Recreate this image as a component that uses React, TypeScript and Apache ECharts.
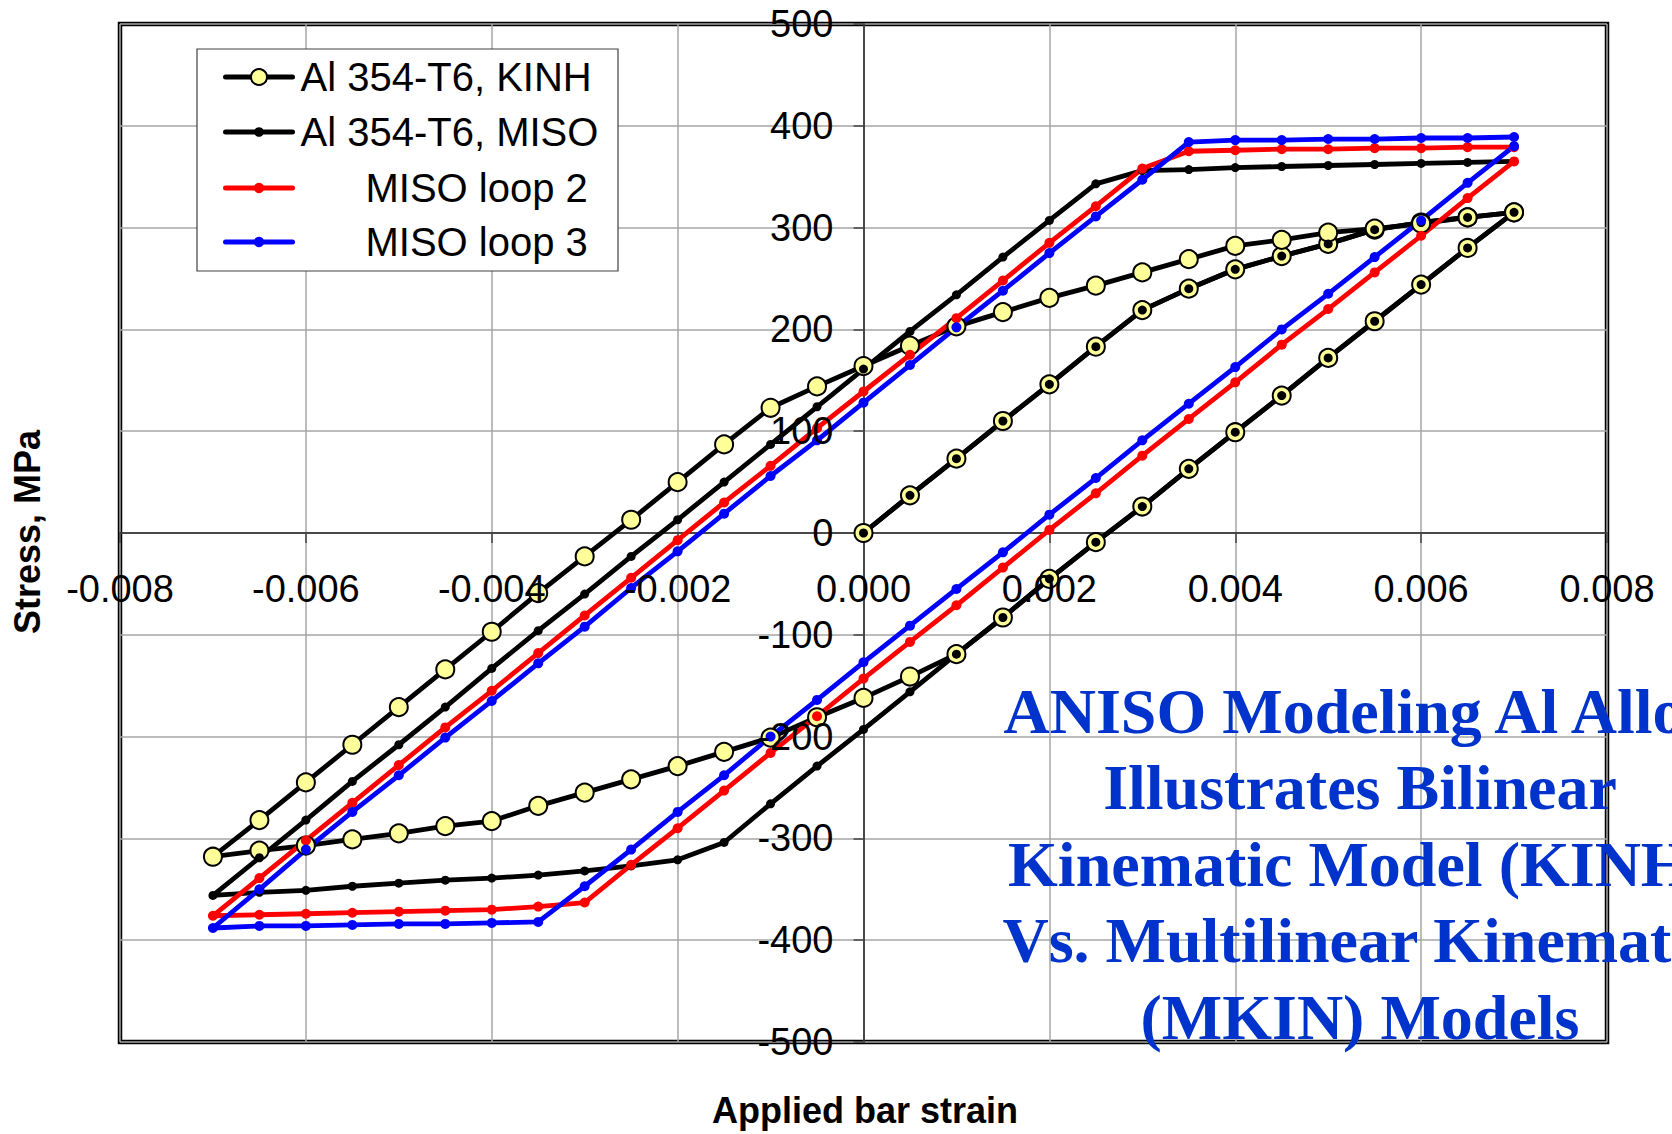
import React, { useEffect, useRef } from "react";
import * as echarts from "echarts";

// ---------- data (strain, stress in MPa) ----------
const strainFirstCycle = [
  0, 0.0005, 0.001, 0.0015, 0.002, 0.0025, 0.003, 0.0035, 0.004, 0.0045, 0.005, 0.0055, 0.006, 0.0065, 0.007,
  0.0065, 0.006, 0.0055, 0.005, 0.0045, 0.004, 0.0035, 0.003, 0.0025, 0.002, 0.0015, 0.001, 0.0005, 0,
  -0.0005, -0.001, -0.0015, -0.002, -0.0025, -0.003, -0.0035, -0.004, -0.0045, -0.005, -0.0055, -0.006, -0.0065, -0.007,
  -0.0065, -0.006, -0.0055, -0.005, -0.0045, -0.004, -0.0035, -0.003, -0.0025, -0.002, -0.0015, -0.001, -0.0005, 0,
  0.0005, 0.001, 0.0015, 0.002, 0.0025, 0.003, 0.0035, 0.004, 0.0045, 0.005, 0.0055, 0.006, 0.0065, 0.007,
];

const strainLoop = [
  0.007, 0.0065, 0.006, 0.0055, 0.005, 0.0045, 0.004, 0.0035, 0.003, 0.0025, 0.002, 0.0015, 0.001, 0.0005, 0,
  -0.0005, -0.001, -0.0015, -0.002, -0.0025, -0.003, -0.0035, -0.004, -0.0045, -0.005, -0.0055, -0.006, -0.0065, -0.007,
  -0.0065, -0.006, -0.0055, -0.005, -0.0045, -0.004, -0.0035, -0.003, -0.0025, -0.002, -0.0015, -0.001, -0.0005, 0,
  0.0005, 0.001, 0.0015, 0.002, 0.0025, 0.003, 0.0035, 0.004, 0.0045, 0.005, 0.0055, 0.006, 0.0065, 0.007,
];

const kinhStress = [
  0, 37, 73, 110, 146, 183, 219, 240, 259, 272, 284, 298, 305, 310, 315,
  280, 244, 208, 172, 135, 99, 63, 26, -9, -45, -83, -119, -141, -162,
  -181, -201, -215, -229, -242, -255, -268, -283, -288, -295, -301, -307, -312, -318,
  -282, -245, -208, -171, -134, -97, -59, -23, 13, 50, 87, 123, 144, 164,
  184, 203, 217, 231, 243, 256, 269, 282, 288, 295, 299, 304, 310, 315,
];

const misoStress = [
  0, 37, 73, 110, 146, 183, 219, 240, 259, 272, 284, 298, 305, 310, 315,
  280, 244, 208, 172, 135, 99, 63, 26, -9, -45, -83, -119, -156, -193,
  -229, -266, -304, -321, -327, -332, -336, -339, -341, -344, -347, -351, -353, -356,
  -319, -282, -244, -208, -171, -133, -96, -60, -23, 13, 50, 87, 124, 161,
  198, 234, 271, 307, 343, 356, 357, 359, 360, 361, 362, 363, 364, 365,
];

const loop2Stress = [
  365, 329, 292, 256, 220, 185, 148, 112, 76, 39, 3, -34, -71, -107, -143,
  -180, -216, -253, -290, -326, -363, -367, -370, -371, -372, -373, -374, -375, -376,
  -339, -302, -265, -228, -191, -155, -118, -81, -44, -7, 30, 66, 103, 139,
  175, 211, 248, 285, 321, 358, 375, 376, 377, 377, 378, 378, 379, 379,
];

const loop3Stress = [
  380, 344, 307, 271, 235, 200, 163, 127, 91, 54, 18, -19, -55, -91, -127,
  -164, -200, -238, -274, -311, -347, -382, -383, -384, -384, -385, -386, -386, -388,
  -350, -311, -274, -238, -201, -165, -128, -92, -54, -18, 19, 56, 91, 128,
  165, 202, 238, 275, 311, 347, 384, 386, 386, 387, 387, 388, 388, 389,
];

const seriesNames = ["Al 354-T6, KINH", "Al 354-T6, MISO", "MISO loop 2", "MISO loop 3"];

const xMin = -0.008;
const xMax = 0.008;
const xStep = 0.002;
const yMin = -500;
const yMax = 500;
const yStep = 100;

const titleLines = [
  "ANISO Modeling Al Alloy",
  "Illustrates Bilinear",
  "Kinematic Model (KINH)",
  "Vs. Multilinear Kinematic",
  "(MKIN) Models",
];
const xAxisTitle = "Applied bar strain";
const yAxisTitle = "Stress, MPa";

// ---------- styles / layout ----------
const SANS = '"Liberation Sans", Arial, Helvetica, sans-serif';
const SERIF = '"Liberation Serif", "Times New Roman", Times, serif';

const CHART_W = 1672;
const CHART_H = 1134;
const GRID_BOX = { left: 120, right: 65, top: 24, bottom: 92 };
const plotW = CHART_W - GRID_BOX.left - GRID_BOX.right;
const plotH = CHART_H - GRID_BOX.top - GRID_BOX.bottom;
// label axes are moved from the plot edge to the zero lines
const xLabelOffset = -plotH * ((0 - yMin) / (yMax - yMin));
const yLabelOffset = -plotW * ((0 - xMin) / (xMax - xMin));

const styleDefs = [
  { line: "#000000", fill: "#ffff99", border: "#000000", borderWidth: 2, size: 18, legendH: 20, textPad: 3, legendTop: 56 },
  { line: "#000000", fill: "#000000", border: "#000000", borderWidth: 0, size: 9, legendH: 12, textPad: 3, legendTop: 111 },
  { line: "#ff0000", fill: "#ff0000", border: "#ff0000", borderWidth: 0, size: 10, legendH: 13, textPad: 68, legendTop: 167 },
  { line: "#0000ff", fill: "#0000ff", border: "#0000ff", borderWidth: 0, size: 10, legendH: 13, textPad: 68, legendTop: 221 },
];

const pairs = (xs: number[], ys: number[]) => xs.map((x, i) => [x, ys[i]]);

const seriesData = [
  pairs(strainFirstCycle, kinhStress),
  pairs(strainFirstCycle, misoStress),
  pairs(strainLoop, loop2Stress),
  pairs(strainLoop, loop3Stress),
];

function buildOption(): any {
  const lineSeries = seriesNames.map((name, i) => {
    const s = styleDefs[i];
    return {
      type: "line",
      name,
      data: seriesData[i],
      xAxisIndex: 0,
      yAxisIndex: 0,
      symbol: "circle",
      symbolSize: s.size,
      showSymbol: false,
      silent: true,
      z: 2,
      lineStyle: { color: s.line, width: 4.8, cap: "round", join: "round" },
      itemStyle: { color: s.fill, borderColor: s.border, borderWidth: s.borderWidth },
      emphasis: { disabled: true },
    };
  });
  const markerSeries = seriesNames.map((name, i) => {
    const s = styleDefs[i];
    return {
      type: "scatter",
      name: name + " markers",
      data: seriesData[i],
      xAxisIndex: 0,
      yAxisIndex: 0,
      symbol: "circle",
      symbolSize: s.size,
      silent: true,
      z: 3,
      itemStyle: { color: s.fill, borderColor: s.border, borderWidth: s.borderWidth, opacity: 1 },
      emphasis: { disabled: true },
    };
  });

  const legends = seriesNames.map((name, i) => {
    const s = styleDefs[i];
    return {
      show: true,
      data: [name],
      left: 223,
      top: s.legendTop,
      padding: 0,
      orient: "horizontal",
      itemWidth: 67,
      itemHeight: s.legendH,
      selectedMode: false,
      z: 6,
      itemStyle: { color: s.fill, borderColor: s.border, borderWidth: s.borderWidth },
      lineStyle: { color: s.line, width: 5, cap: "round" },
      textStyle: {
        color: "#000",
        fontSize: 40,
        fontFamily: SANS,
        lineHeight: 42,
        padding: [0, 0, 0, s.textPad],
      },
    };
  });

  const xFmt = (v: number) => {
    const r = Math.round(v * 1000) / 1000;
    return (r === 0 ? 0 : r).toFixed(3);
  };

  const titleTexts = titleLines.map((t, i) => ({
    type: "text",
    z: 7,
    x: 1360,
    y: 711.4 + i * 76.5,
    style: {
      text: t,
      font: `bold 64px ${SERIF}`,
      fill: "#0033cc",
      align: "center",
      verticalAlign: "middle",
      textAlign: "center",
      textVerticalAlign: "middle",
    },
  }));

  return {
    animation: false,
    backgroundColor: "#ffffff",
    grid: [
      {
        ...GRID_BOX,
        show: true,
        borderColor: "#000",
        borderWidth: 4.5,
        backgroundColor: "transparent",
      },
      {
        ...GRID_BOX,
        show: false,
        z: 10,
      },
    ],
    xAxis: [
      {
        type: "value",
        gridIndex: 0,
        min: xMin,
        max: xMax,
        interval: xStep,
        position: "bottom",
        z: 0,
        axisLine: { show: true, onZero: true, lineStyle: { color: "#222", width: 1.5 } },
        axisTick: { show: true, inside: false, length: 10, lineStyle: { color: "#444", width: 1.5 } },
        axisLabel: { show: false },
        splitLine: { show: true, lineStyle: { color: "#a6a6a6", width: 1.5 } },
      },
      {
        type: "value",
        gridIndex: 1,
        min: xMin,
        max: xMax,
        interval: xStep,
        position: "bottom",
        offset: xLabelOffset,
        z: 10,
        axisLine: { show: false, onZero: false },
        axisTick: { show: false },
        splitLine: { show: false },
        axisLabel: {
          show: true,
          margin: 37,
          fontSize: 38,
          fontFamily: SANS,
          color: "#000",
          formatter: xFmt,
          showMinLabel: true,
          showMaxLabel: true,
        },
      },
    ],
    yAxis: [
      {
        type: "value",
        gridIndex: 0,
        min: yMin,
        max: yMax,
        interval: yStep,
        position: "left",
        z: 0,
        axisLine: { show: true, onZero: true, lineStyle: { color: "#222", width: 1.5 } },
        axisTick: { show: true, inside: false, length: 10, lineStyle: { color: "#444", width: 1.5 } },
        axisLabel: { show: false },
        splitLine: { show: true, lineStyle: { color: "#a6a6a6", width: 1.5 } },
      },
      {
        type: "value",
        gridIndex: 1,
        min: yMin,
        max: yMax,
        interval: yStep,
        position: "left",
        offset: yLabelOffset,
        z: 10,
        axisLine: { show: false, onZero: false },
        axisTick: { show: false },
        splitLine: { show: false },
        axisLabel: {
          show: true,
          margin: 30,
          fontSize: 38,
          fontFamily: SANS,
          color: "#000",
          formatter: (v: number) => String(Math.round(v)),
          showMinLabel: true,
          showMaxLabel: true,
        },
      },
    ],
    legend: legends,
    graphic: {
      elements: [
        {
          type: "rect",
          z: 1,
          shape: { x: 197, y: 49, width: 421, height: 222 },
          style: { fill: "#ffffff", stroke: "#404040", lineWidth: 1.2 },
        },
        ...titleTexts,
        {
          type: "text",
          z: 7,
          x: 27,
          y: 532,
          rotation: Math.PI / 2,
          style: {
            text: yAxisTitle,
            font: `bold 36px ${SANS}`,
            fill: "#000",
            align: "center",
            verticalAlign: "middle",
            textAlign: "center",
            textVerticalAlign: "middle",
          },
        },
        {
          type: "text",
          z: 7,
          x: 865,
          y: 1110,
          style: {
            text: xAxisTitle,
            font: `bold 36px ${SANS}`,
            fill: "#000",
            align: "center",
            verticalAlign: "middle",
            textAlign: "center",
            textVerticalAlign: "middle",
          },
        },
      ],
    },
    series: [...lineSeries, ...markerSeries],
  };
}

export default function App() {
  const ref = useRef<HTMLDivElement | null>(null);
  useEffect(() => {
    if (!ref.current) return;
    const chart = echarts.init(ref.current, undefined, { renderer: "svg" });
    chart.setOption(buildOption());
    return () => {
      chart.dispose();
    };
  }, []);
  return (
    <div
      ref={ref}
      style={{ position: "fixed", left: 0, top: 0, width: CHART_W, height: CHART_H, background: "#fff" }}
    />
  );
}
